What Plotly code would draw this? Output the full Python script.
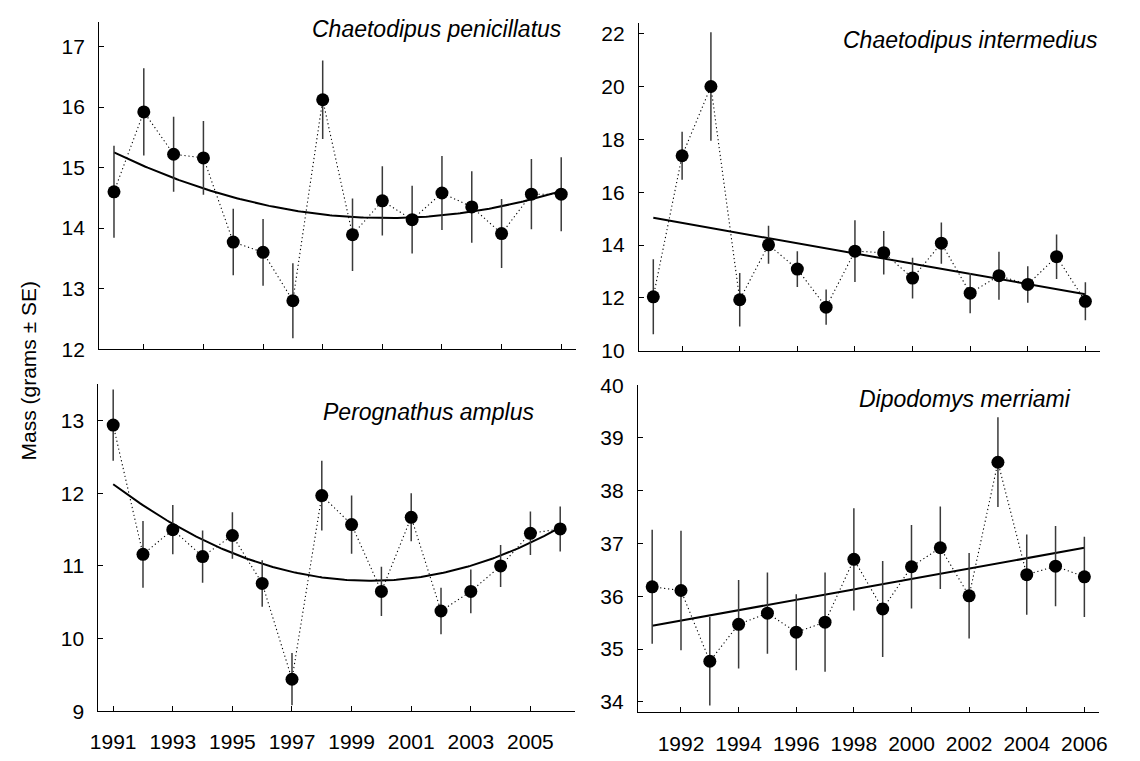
import numpy as np
import plotly.graph_objects as go

# ---- data: yearly mean body mass (g) and standard errors ----
years = list(range(1991, 2007))

penicillatus_mass = [14.60, 15.92, 15.22, 15.16, 13.77, 13.60, 12.80, 16.12,
                     13.89, 14.45, 14.14, 14.58, 14.35, 13.91, 14.56, 14.56]
penicillatus_se = [0.76, 0.72, 0.62, 0.61, 0.55, 0.55, 0.62, 0.65,
                   0.60, 0.57, 0.56, 0.61, 0.59, 0.57, 0.58, 0.61]

intermedius_mass = [12.04, 17.38, 20.00, 11.93, 14.01, 13.09, 11.65, 13.77,
                    13.71, 12.75, 14.07, 12.18, 12.84, 12.51, 13.56, 11.87]
intermedius_se = [1.42, 0.91, 2.05, 1.01, 0.72, 0.68, 0.67, 1.17,
                  0.82, 0.77, 0.78, 0.76, 0.91, 0.69, 0.84, 0.72]

amplus_mass = [12.94, 11.16, 11.50, 11.13, 11.42, 10.76, 9.44, 11.97,
               11.57, 10.65, 11.67, 10.38, 10.65, 11.00, 11.45, 11.51]
amplus_se = [0.49, 0.46, 0.34, 0.36, 0.32, 0.32, 0.36, 0.48,
             0.40, 0.34, 0.33, 0.32, 0.30, 0.29, 0.30, 0.31]

merriami_mass = [36.18, 36.11, 34.77, 35.47, 35.68, 35.32, 35.51, 36.70,
                 35.76, 36.56, 36.92, 36.01, 38.54, 36.41, 36.57, 36.37]
merriami_se = [1.08, 1.13, 0.84, 0.84, 0.77, 0.72, 0.94, 0.97,
               0.91, 0.79, 0.78, 0.81, 0.85, 0.76, 0.76, 0.76]

species_names = ["Chaetodipus penicillatus", "Chaetodipus intermedius",
                 "Perognathus amplus", "Dipodomys merriami"]
fit_degree = [2, 1, 2, 1]

y_ranges = [[12, 17.41], [10, 22.39], [9, 13.51], [33.8, 40.002]]
y_ticks = [[12, 13, 14, 15, 16, 17], [10, 12, 14, 16, 18, 20, 22],
           [9, 10, 11, 12, 13], [34, 35, 36, 37, 38, 39, 40]]
x_ticks = [list(range(1992, 2007, 2)), list(range(1992, 2007, 2)),
           list(range(1991, 2006, 2)), list(range(1992, 2007, 2))]
show_xlabels = [False, False, True, True]

# panel placement in paper coordinates (x-domain, y-domain)
x_domains = [[0.0811, 0.5059], [0.5618, 0.9722], [0.0804, 0.5050], [0.5608, 0.9713]]
y_domains = [[0.5431, 0.9869], [0.5410, 0.9846], [0.0526, 0.4963], [0.0509, 0.4945]]

# label anchor: right edge (px) and vertical centre (px from top)
label_pos = [(564, 18), (1109, 29), (536, 412), (1081, 399)]

FONT = "Liberation Sans, Arial, sans-serif"
W, H = 1140, 761

series = [(penicillatus_mass, penicillatus_se), (intermedius_mass, intermedius_se),
          (amplus_mass, amplus_se), (merriami_mass, merriami_se)]

fig = go.Figure()
layout_axes = {}
annotations = []

for i, ((mass, se), name, deg) in enumerate(zip(series, species_names, fit_degree)):
    n = i + 1
    xa = "x" if n == 1 else f"x{n}"
    ya = "y" if n == 1 else f"y{n}"

    # regression fitted to the yearly means
    coeffs = np.polyfit(np.array(years, dtype=float), np.array(mass), deg)
    xs = np.linspace(years[0], years[-1], 200)
    fig.add_trace(go.Scatter(
        x=xs, y=np.polyval(coeffs, xs), mode="lines",
        line=dict(color="black", width=2), xaxis=xa, yaxis=ya,
        showlegend=False, hoverinfo="skip"))

    # yearly means joined by a fine dotted line, with ±SE bars
    fig.add_trace(go.Scatter(
        x=years, y=mass, mode="lines+markers",
        line=dict(color="black", width=1.1, dash="1.2px,2.8px"),
        marker=dict(color="black", size=13),
        error_y=dict(type="data", array=se, visible=True,
                     color="#3a3a3a", thickness=1.5, width=0),
        xaxis=xa, yaxis=ya, showlegend=False))

    common = dict(showgrid=False, zeroline=False, showline=True,
                  linecolor="black", linewidth=1, ticks="inside",
                  ticklen=5, tickcolor="black", tickwidth=1,
                  tickfont=dict(family=FONT, size=21, color="black"))
    layout_axes[f"xaxis{'' if n == 1 else n}"] = dict(
        domain=x_domains[i], anchor=ya, range=[1990.5, 2006.5],
        tickmode="array", tickvals=x_ticks[i],
        ticktext=[str(v) for v in x_ticks[i]] if show_xlabels[i] else [""] * len(x_ticks[i]),
        ticklabelstandoff=12, **common)
    layout_axes[f"yaxis{'' if n == 1 else n}"] = dict(
        domain=y_domains[i], anchor=xa, range=y_ranges[i],
        tickmode="array", tickvals=y_ticks[i],
        ticklabelstandoff=9, **common)

    rx, cy = label_pos[i]
    annotations.append(dict(
        text=f"<i>{name}</i>", xref="paper", yref="paper",
        x=rx / W, y=1 - cy / H, xanchor="right", yanchor="middle",
        showarrow=False, font=dict(family=FONT, size=23, color="black")))

annotations.append(dict(
    text="Mass (grams ± SE)", xref="paper", yref="paper",
    x=21 / W, y=1 - 370 / H, xanchor="center", yanchor="middle",
    textangle=-90, showarrow=False,
    font=dict(family=FONT, size=21, color="black")))

fig.update_layout(
    width=W, height=H,
    margin=dict(l=0, r=0, t=0, b=0),
    paper_bgcolor="white", plot_bgcolor="white",
    annotations=annotations,
    **layout_axes)

fig.write_html("out.html")
